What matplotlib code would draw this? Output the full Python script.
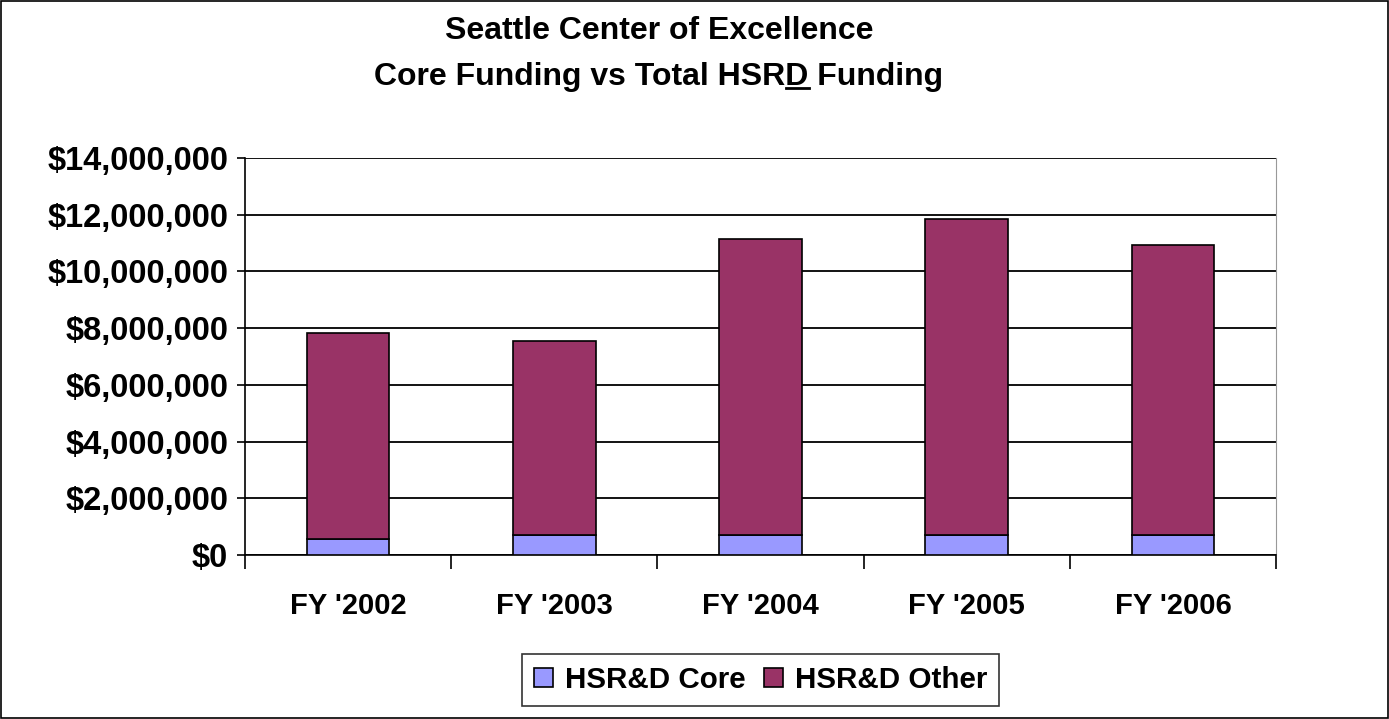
import matplotlib.pyplot as plt
from matplotlib.ticker import FuncFormatter, FixedLocator
import numpy as np

plt.rcParams['font.family'] = ['Liberation Sans', 'DejaVu Sans']
plt.rcParams['font.weight'] = 'bold'

years = ["FY '2002", "FY '2003", "FY '2004", "FY '2005", "FY '2006"]
core = [560000, 700000, 700000, 700000, 700000]
other = [7270000, 6850000, 10430000, 11150000, 10230000]

fig = plt.figure(figsize=(13.89, 7.19), dpi=100)
ax = fig.add_axes([245 / 1389, 1 - 555 / 719, 1031 / 1389, 397 / 719])

x = np.arange(len(years))
ax.bar(x, core, width=0.4, color='#9999FF', edgecolor='black', linewidth=1.2,
       label='HSR&D Core', zorder=3)
ax.bar(x, other, width=0.4, bottom=core, color='#993366', edgecolor='black',
       linewidth=1.2, label='HSR&D Other', zorder=3)

ax.set_xlim(-0.5, len(years) - 0.5)
ax.set_ylim(0, 14000000)
ax.set_yticks(np.arange(0, 14000001, 2000000))
ax.yaxis.set_major_formatter(FuncFormatter(lambda v, p: '${:,.0f}'.format(v)))
ax.grid(axis='y', color='black', linewidth=1.3, zorder=0)

ax.set_xticks(x)
ax.set_xticklabels(years)
ax.xaxis.set_minor_locator(FixedLocator(np.arange(-0.5, len(years), 1.0)))
ax.tick_params(axis='x', which='major', length=0, pad=27, labelsize=21)
ax.tick_params(axis='x', which='minor', length=10, width=1.2, direction='out')
ax.tick_params(axis='y', length=6, width=1.2, direction='out', labelsize=23.5, pad=6)
for lab in ax.get_xticklabels() + ax.get_yticklabels():
    lab.set_fontweight('bold')

ax.spines['top'].set_visible(False)
ax.spines['right'].set_color('#999999')
ax.spines['left'].set_linewidth(1.2)
ax.spines['bottom'].set_linewidth(1.2)

# title with underlined D
tsize = 23
fig.text(659 / 1389, 1 - 31 / 719, 'Seattle Center of Excellence', ha='center',
         va='center', fontsize=tsize, fontweight='bold')
line2 = 'Core Funding vs Total HSRD Funding'
t2 = fig.text(659 / 1389, 1 - 77 / 719, line2, ha='center', va='center',
              fontsize=tsize, fontweight='bold')
fig.canvas.draw()
r = fig.canvas.get_renderer()
bb = t2.get_window_extent(r)
pre = fig.text(0, 0, 'Core Funding vs Total HSR', fontsize=tsize, fontweight='bold')
dch = fig.text(0, 0, 'D', fontsize=tsize, fontweight='bold')
w_pre = pre.get_window_extent(r).width
w_d = dch.get_window_extent(r).width
pre.remove()
dch.remove()
x0 = bb.x0 + w_pre
y0 = bb.y0 + 4
fig.add_artist(plt.Line2D([x0 / fig.bbox.width, (x0 + w_d) / fig.bbox.width],
                          [y0 / fig.bbox.height, y0 / fig.bbox.height],
                          color='black', linewidth=2))

leg = ax.legend(loc='center', bbox_to_anchor=(0.5, (555 - 680) / 397), ncol=2,
                frameon=True, fancybox=False, edgecolor='black',
                handlelength=0.65, handleheight=0.65, handletextpad=0.4,
                columnspacing=0.6, borderpad=0.42, borderaxespad=0,
                prop={'weight': 'bold', 'size': 21.3})
leg.get_frame().set_linewidth(1.2)

fig.add_artist(plt.Rectangle((0.001, 0.001), 0.998, 0.997, transform=fig.transFigure,
                             fill=False, edgecolor='black', linewidth=1.2))

fig.savefig('out.png', dpi=100)
